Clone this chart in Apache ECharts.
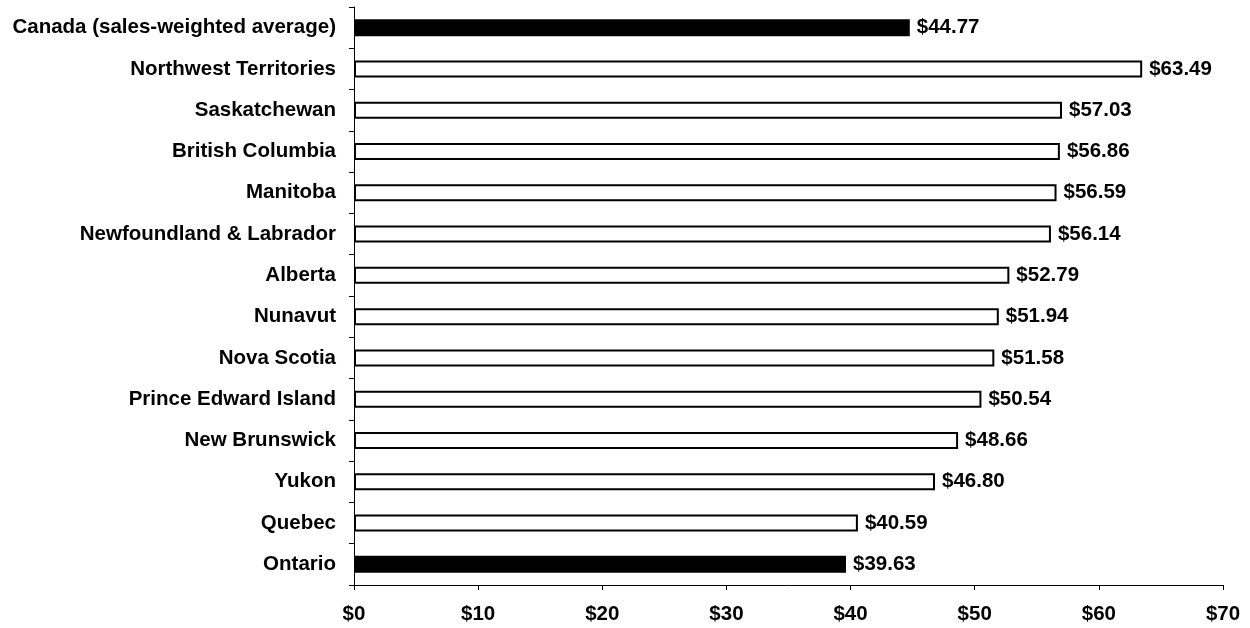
<!DOCTYPE html>
<html><head><meta charset="utf-8">
<script src="https://cdn.jsdelivr.net/npm/echarts@6/dist/echarts.min.js"></script>
<style>html,body{margin:0;padding:0;background:#fff}#c{width:1250px;height:628px}</style>
</head><body><div id="c"></div>
<script>
const categories = ["Canada (sales-weighted average)","Northwest Territories","Saskatchewan","British Columbia","Manitoba","Newfoundland & Labrador","Alberta","Nunavut","Nova Scotia","Prince Edward Island","New Brunswick","Yukon","Quebec","Ontario"];
const values = [44.77,63.49,57.03,56.86,56.59,56.14,52.79,51.94,51.58,50.54,48.66,46.80,40.59,39.63];
const highlighted = ["Canada (sales-weighted average)","Ontario"];
const xTicks = [0,10,20,30,40,50,60,70];

const font = {fontFamily:'"Liberation Sans", Arial, sans-serif', fontWeight:'bold', fontSize:20.5, color:'#000'};
const chart = echarts.init(document.getElementById('c'));
chart.setOption({
  animation:false,
  grid:{left:354,right:27,top:7,bottom:43,containLabel:false},
  xAxis:{type:'value',min:xTicks[0],max:xTicks[xTicks.length-1],interval:10,
    axisLine:{show:true,lineStyle:{color:'#000',width:1}},
    axisTick:{show:true,length:5,lineStyle:{color:'#000'}},
    splitLine:{show:false},
    axisLabel:Object.assign({},font,{margin:19,formatter:v=>'$'+v})},
  yAxis:{type:'category',inverse:true,data:categories,
    axisLine:{show:true,lineStyle:{color:'#000',width:1}},
    axisTick:{show:true,length:5,lineStyle:{color:'#000'}},
    axisLabel:Object.assign({},font,{margin:18})},
  series:[{type:'bar',barWidth:17,
    data:values.map((v,i)=>({value:v,itemStyle:highlighted.includes(categories[i])?{color:'#000',borderColor:'#000',borderWidth:2}:{color:'#fff',borderColor:'#000',borderWidth:2}})),
    label:Object.assign({show:true,position:'right',distance:7,formatter:p=>'$'+p.value.toFixed(2)},font)}]
});
</script></body></html>
